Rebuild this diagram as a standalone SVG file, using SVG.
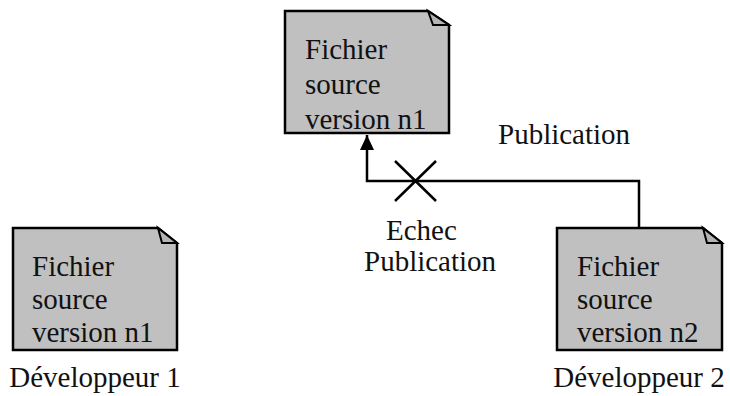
<svg xmlns="http://www.w3.org/2000/svg" width="730" height="396" viewBox="0 0 730 396">
<style>
.doc{fill:#c0c0c0;stroke:#000;stroke-width:2.5;stroke-linejoin:miter}
.flap{fill:#b4b4b4;stroke:#000;stroke-width:2;stroke-linejoin:miter}
.t{font-family:'Liberation Serif','DejaVu Serif',serif;font-size:29px;fill:#111}
.conn{fill:none;stroke:#000;stroke-width:2.5}
</style>
<defs>
<marker id="arrow" markerUnits="userSpaceOnUse" markerWidth="16" markerHeight="16" viewBox="0 0 16 16" refX="15" refY="8" orient="auto">
<path d="M0,1 L15,8 L0,15 Z" fill="#000"/>
</marker>
</defs>
<g id="doc-top">
<path class="doc" d="M285,11 H428 L449,25 V133 H285 Z"/>
<path class="flap" d="M428,11 L433,25 L449,25 Z"/>
<text class="t" x="305" y="59">Fichier</text>
<text class="t" x="305" y="94">source</text>
<text class="t" x="305" y="129">version n1</text>
</g>
<g id="doc-dev1">
<path class="doc" d="M13,228 H158 L177,243 V350 H13 Z"/>
<path class="flap" d="M158,228 L162,243 L177,243 Z"/>
<text class="t" x="32" y="276">Fichier</text>
<text class="t" x="32" y="309">source</text>
<text class="t" x="32" y="342">version n1</text>
<text class="t" x="95" y="387" text-anchor="middle">Développeur 1</text>
</g>
<g id="doc-dev2">
<path class="doc" d="M557,228 H703 L722,243 V350 H557 Z"/>
<path class="flap" d="M703,228 L707,243 L722,243 Z"/>
<text class="t" x="577" y="276">Fichier</text>
<text class="t" x="577" y="309">source</text>
<text class="t" x="577" y="342">version n2</text>
<text class="t" x="639" y="387" text-anchor="middle">Développeur 2</text>
</g>
<g id="connectors">
<path class="conn" d="M639,228 V181 H367 V135" marker-end="url(#arrow)"/>
<path class="conn" d="M395,161 L436,201 M436,161 L395,201" stroke-width="3"/>
<text class="t" x="498" y="144">Publication</text>
<text class="t" x="386" y="240">Echec</text>
<text class="t" x="364" y="271">Publication</text>
</g>
</svg>
